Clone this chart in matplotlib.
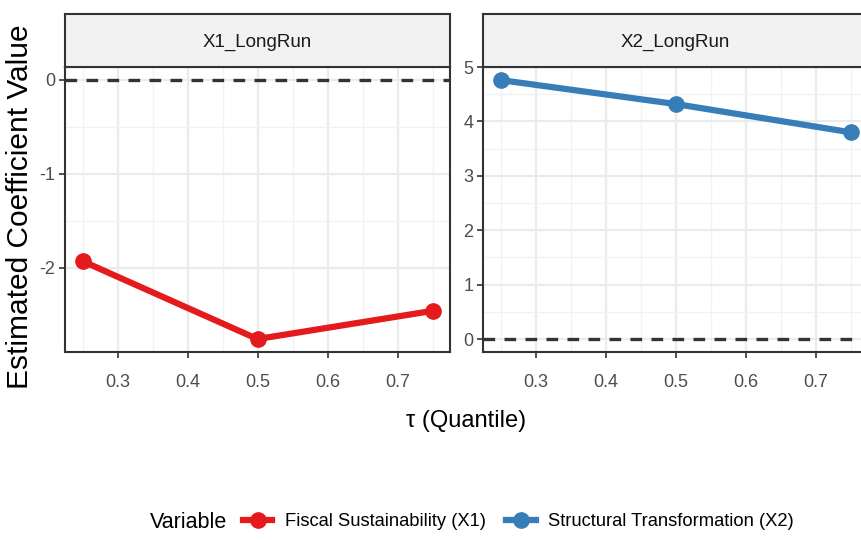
import numpy as np
import matplotlib
matplotlib.use("Agg")
import matplotlib.pyplot as plt
from matplotlib.lines import Line2D

plt.rcParams['font.family'] = ['Liberation Sans', 'DejaVu Sans']

# data
quantiles = [0.25, 0.5, 0.75]
x1_long = [-1.93, -2.76, -2.46]
x2_long = [4.76, 4.32, 3.80]
panel_titles = ["X1_LongRun", "X2_LongRun"]
series_labels = ["Fiscal Sustainability (X1)", "Structural Transformation (X2)"]
x_ticks = [0.3, 0.4, 0.5, 0.6, 0.7]
y_ticks_left = [-2, -1, 0]
y_ticks_right = [0, 1, 2, 3, 4, 5]

red = "#E41A1C"
blue = "#377EB8"
W, H = 861, 540

fig = plt.figure(figsize=(W / 100, H / 100), dpi=100)


def px(x0, y0, x1, y1):
    # pixel box (top-left origin) -> figure fraction rect
    return [x0 / W, 1 - y1 / H, (x1 - x0) / W, (y1 - y0) / H]


def panel(rect, strip_rect, title, y, color, yticks):
    ax = fig.add_axes(rect)
    ax.plot(quantiles, y, color=color, lw=4.5, marker='o', ms=11, zorder=3,
            solid_capstyle='round')
    ax.axhline(0, color='#333333', lw=2.4, ls=(0, (3.5, 2.8)), zorder=2)
    lo = min(min(y), 0)
    hi = max(max(y), 0)
    pad = (hi - lo) * 0.05
    ax.set_ylim(lo - pad, hi + pad)
    ax.set_xlim(0.225, 0.775)
    ax.set_xticks(x_ticks)
    ax.set_xticklabels([str(t) for t in x_ticks])
    ax.set_xticks(np.arange(0.25, 0.80, 0.1), minor=True)
    ax.set_yticks(yticks)
    ax.set_yticklabels([str(t) for t in yticks])
    ax.set_yticks(np.array(yticks[:-1]) + 0.5, minor=True)
    ax.grid(which='major', color='#EBEBEB', lw=1.6)
    ax.grid(which='minor', color='#F2F2F2', lw=1.0)
    ax.set_axisbelow(True)
    for s in ax.spines.values():
        s.set_color('#333333')
        s.set_linewidth(1.5)
    ax.tick_params(which='major', length=4, width=1.2, color='#333333',
                   labelsize=13, labelcolor='#4D4D4D', pad=3)
    ax.tick_params(which='minor', length=0)
    ax.tick_params(axis='x', pad=12)

    st = fig.add_axes(strip_rect)
    st.set_facecolor('#F2F2F2')
    st.set_xticks([])
    st.set_yticks([])
    for s in st.spines.values():
        s.set_color('#333333')
        s.set_linewidth(1.5)
    st.text(0.5, 0.47, title, ha='center', va='center', fontsize=13.5,
            color='#1A1A1A', transform=st.transAxes)
    return ax


ax1 = panel(px(65, 67, 450, 352), px(65, 14, 450, 67), panel_titles[0],
            x1_long, red, y_ticks_left)
ax2 = panel(px(483, 67, 868, 352), px(483, 14, 868, 67), panel_titles[1],
            x2_long, blue, y_ticks_right)

fig.text(20 / W, 1 - 207 / H, "Estimated Coefficient Value", rotation=90,
         ha='center', va='center', fontsize=21.5)
fig.text(466 / W, 1 - 421 / H, "τ (Quantile)", ha='center', va='center',
         fontsize=17)

handles = [Line2D([], [], color=red, lw=4.5, marker='o', ms=11),
           Line2D([], [], color=blue, lw=4.5, marker='o', ms=11)]
fig.text(150 / W, 1 - 522 / H, "Variable", ha='left', va='center', fontsize=15.5)
fig.legend(handles, series_labels, loc='center left', bbox_to_anchor=(243 / W, 1 - 522 / H),
           ncol=2, frameon=False, fontsize=13.2, handlelength=1.6, handletextpad=0.7,
           columnspacing=1.1, borderaxespad=0, borderpad=0)

fig.savefig("out.png", dpi=100)
